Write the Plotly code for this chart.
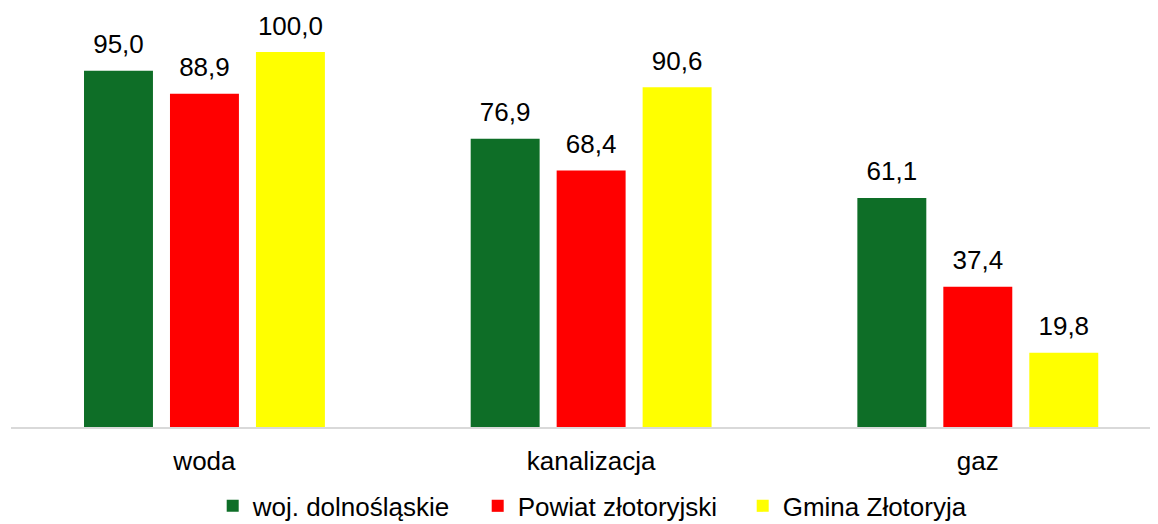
import plotly.graph_objects as go

categories = ["woda", "kanalizacja", "gaz"]
series_names = ["woj. dolnośląskie", "Powiat złotoryjski", "Gmina Złotoryja"]
woj_dolnoslaskie = [95.0, 76.9, 61.1]
powiat_zlotoryjski = [88.9, 68.4, 37.4]
gmina_zlotoryja = [100.0, 90.6, 19.8]
colors = ["#0E6E27", "#FF0000", "#FFFF00"]

series_values = [woj_dolnoslaskie, powiat_zlotoryjski, gmina_zlotoryja]

FONT = "Liberation Sans, Arial, sans-serif"

fig = go.Figure()
for i, (name, vals, col) in enumerate(zip(series_names, series_values, colors)):
    fig.add_trace(go.Bar(
        x=categories, y=vals, name=name,
        marker=dict(color=col, line=dict(width=0)),
        offsetgroup=str(i),
        hoverinfo="skip",
    ))
for i, (name, vals) in enumerate(zip(series_names, series_values)):
    fig.add_trace(go.Scatter(
        x=categories, y=vals, mode="markers+text",
        text=[f"{v:.1f}".replace(".", ",") for v in vals],
        textposition="top center",
        textfont=dict(family=FONT, size=26, color="#000000"),
        marker=dict(size=16, opacity=0),
        offsetgroup=str(i),
        showlegend=False, hoverinfo="skip", cliponaxis=False,
    ))

# page body has an 8px margin, so the figure is sized to 1150x516
fig.update_layout(
    width=1150, height=516,
    margin=dict(l=3, r=0, t=10, b=97, autoexpand=False),
    paper_bgcolor="white", plot_bgcolor="white",
    barmode="group", bargap=0.333, bargroupgap=0.198,
    scattermode="group", scattergap=0.333,
    separators=", ",
    font=dict(family=FONT, size=26, color="#000000"),
    showlegend=True,
    legend=dict(
        orientation="h",
        xref="container", x=0.178, xanchor="left",
        yref="container", y=0.035, yanchor="middle",
        font=dict(family=FONT, size=26, color="#000000"),
        tracegroupgap=0, bgcolor="rgba(0,0,0,0)",
        entrywidth=220,
    ),
    xaxis=dict(
        type="category", range=[-0.5003, 2.466],
        showline=True, linecolor="#D9D9D9", linewidth=2,
        ticks="", showgrid=False, zeroline=False,
        tickfont=dict(family=FONT, size=26, color="#000000"),
        ticklabelstandoff=10,
    ),
    yaxis=dict(
        range=[0, 109.07], visible=False, showgrid=False, zeroline=False,
    ),
)

fig.write_html("out.html")
